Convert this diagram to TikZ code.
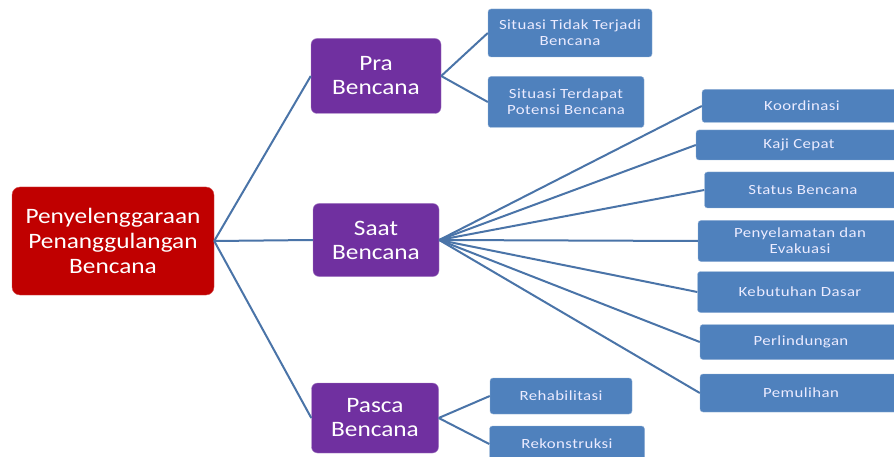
\documentclass[tikz,border=0pt]{standalone}
\usepackage{fontspec}
\setmainfont{Carlito}[FakeStretch=1.15]
\newfontfamily\itemfont{Carlito}[FakeStretch=1.2, LetterSpace=3]
\usetikzlibrary{positioning}

\definecolor{rootred}{HTML}{C00000}
\definecolor{phasepurple}{HTML}{7030A0}
\definecolor{itemblue}{HTML}{4F81BD}
\definecolor{linkblue}{HTML}{4A74A8}

\tikzset{
  rootbox/.style={fill=rootred, draw=rootred!70!white, rounded corners=8pt, text=white,
    align=center, font=\fontsize{22}{25}\selectfont, inner sep=0pt},
  phasebox/.style={fill=phasepurple, draw=phasepurple!60!white, rounded corners=6pt, text=white,
    align=center, font=\fontsize{22}{24}\selectfont, inner sep=0pt},
  itembox/.style={fill=itemblue, draw=itemblue!60!white, rounded corners=3pt, text=white!92!blue,
    align=center, font=\itemfont\fontsize{14}{16}\selectfont, inner sep=0pt},
  link/.style={draw=linkblue, line width=2pt}
}

\begin{document}
\begin{tikzpicture}[x=1pt,y=-1pt]
  \useasboundingbox[fill=white] (0,0) rectangle (894,457);

  % root and phases
  \node[rootbox, minimum width=202pt, minimum height=108pt] (root) at (113,241)
    {Penyelenggaraan\\Penanggulangan\\Bencana};
  \node[phasebox, minimum width=130pt, minimum height=75pt] (pra) at (376,76) {Pra\\Bencana};
  \node[phasebox, minimum width=126pt, minimum height=73pt] (saat) at (376,240) {Saat\\Bencana};
  \node[phasebox, minimum width=127pt, minimum height=70pt] (pasca) at (375,418) {Pasca\\Bencana};

  % pra bencana items
  \node[itembox, minimum width=164pt, minimum height=48pt] (tidak) at (570,33)
    {Situasi Tidak Terjadi\\Bencana};
  \node[itembox, minimum width=156pt, minimum height=51pt] (potensi) at (566,102)
    {Situasi Terdapat\\Potensi Bencana};

  % saat bencana items
  \node[itembox, minimum width=200pt, minimum height=33pt] (koord) at (802,106) {Koordinasi};
  \node[itembox, minimum width=206pt, minimum height=30pt] (kaji) at (799,145) {Kaji Cepat};
  \node[itembox, minimum width=197pt, minimum height=36pt] (status) at (803,190) {Status Bencana};
  \node[itembox, minimum width=204pt, minimum height=41pt] (evakuasi) at (800,241)
    {Penyelamatan dan\\Evakuasi};
  \node[itembox, minimum width=205pt, minimum height=41pt] (dasar) at (800,292) {Kebutuhan Dasar};
  \node[itembox, minimum width=202pt, minimum height=35pt] (lindung) at (801,342) {Perlindungan};
  \node[itembox, minimum width=202pt, minimum height=38pt] (pulih) at (801,393) {Pemulihan};

  % pasca bencana items
  \node[itembox, minimum width=142pt, minimum height=36pt] (rehab) at (561,396) {Rehabilitasi};
  \node[itembox, minimum width=155pt, minimum height=36pt] (rekon) at (567,444) {Rekonstruksi};

  % connectors
  \foreach \n in {pra,saat,pasca}
    \draw[link] (root.east) -- (\n.west);
  \foreach \n in {tidak,potensi}
    \draw[link] (pra.east) -- (\n.west);
  \foreach \n in {koord,kaji,status,evakuasi,dasar,lindung,pulih}
    \draw[link] (saat.east) -- (\n.west);
  \foreach \n in {rehab,rekon}
    \draw[link] (pasca.east) -- (\n.west);
\end{tikzpicture}
\end{document}
